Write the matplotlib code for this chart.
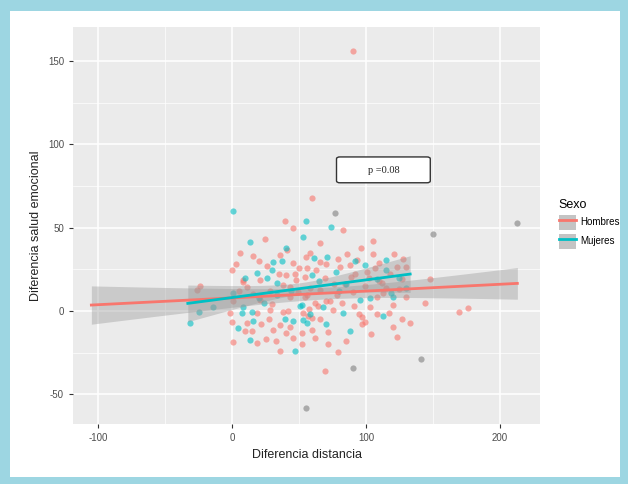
import numpy as np
import matplotlib
matplotlib.use("Agg")
import matplotlib.pyplot as plt
from matplotlib.patches import Rectangle, FancyBboxPatch
from matplotlib.lines import Line2D
from matplotlib.patches import Patch

plt.rcParams['font.family'] = ['Liberation Sans', 'DejaVu Sans']
plt.rcParams['axes.unicode_minus'] = False

# puntos (x = diferencia distancia, y = diferencia salud emocional)
hombres_x = [90, 60, 83, 66, 105, 105, 55, 130, 39.5, 45.6, 24.6, 6, 15.4, 35.8, 40.8,
             26.3, 0, 45.8, 40, 8, 0, 1, 18.4, 25, 11, 27.8, 30.8, 35.8, 43, 45.8,
             52, 35.8, 28.4, 18.4, -1.5, 1, 38, 21, 43, 53, -26, -23.6, 59.5, 72,
             62, 75.6, 96.8, 99, 120.4, 126.6, 120.4, 132.8, 123, 79.3, 69.4, 144, 57,
             57.5, 103, 108, 99, 169.7, 176, 148, 55.7, 63, 80.6, 88, 93, 100.5, 106.7,
             123, 54.5, 69.4, 89, 65.7, 38, 48, 11, 8.5, 21, 43, 49.5, 55.7, 54.5,
             65.7, 78, 90.5, 113, 130, 60, 72, 84, 110, 30, 15, 5, 70, 95, 115,
             20, 35, 50, 58, 64, 70, 76, 82, 86, 92, 97, 102, 108, 112, 118, 125,
             128, 3, 10, 16, 22, 28, 33, 42, 47, 52, 58, 66, 73, 79, 85, 91, 96,
             104, 110, 117, 121, 127, 40, 62]
hombres_y = [156, 68, 48.6, 40.6, 42, 34, 32.6, 26.6, 54, 49.8, 43, 35, 33, 33.6, 36.6,
             27, 24.6, 28.6, 21.6, 18.6, -6.4, -18.4, -19.4, -17, -7.4, -5, -11.4, -8.4, -9.4, -16.4,
             -13.4, -23.8, 0.6, -1.4, -1.4, 6, -0.4, 6.6, 8.6, -1.4, 12.6, 15, -11.4, -12.4,
             4.6, 0.6, -3.4, -6.4, 3.6, -5, -9.4, -7.4, -15.4, -24.4, -35.8, 5, -3,
             1, 2.6, 8.6, 15, -0.6, 1.6, 19, 25.6, 24.6, 26.6, 27.6, 30.6, 23.6, 25.6,
             26.6, 20.6, 19.6, 20.6, 29.6, 15.6, 18.6, 14.6, 17.6, 18.6, 14.6, 11.6, 9.6, 8.6,
             12.6, 9.6, 11.6, 10.6, 8.6, -4, -20, 16, 18, 4, -12, 12, 6, -2, 14,
             30, 22, 26, 14, 3, 28, 16, 5, 34, 22, -8, 20, -2, 17, 22, 13,
             31, 28, -12, 10, -8, 12, -18, 0, 22, -20, 35, -5, 6, 31, -18, 3, 38,
             -14, 29, -1, 34, 19, -13, -16]

mujeres_x = [0.5, 55, 74, 53, 71, 61, 115, 13.4, 30.8, 19, 30, 26, -31, -25, -14.4,
             4.7, 13.4, 14.7, 8, 39.5, 45.8, 50.7, 47, 7.2, 1, 33.8, 55.7, 52, 53,
             88, 68, 83, 112.4, 119, 77.6, 99, 115, 59.5, 33.3, 95.5, 120, 130, 20, 85,
             10, 24, 37, 44, 58, 65, 80, 92, 103, 108, 125, 40, 16, 70]
mujeres_y = [60, 54, 50.6, 44.6, 32.6, 32, 30.6, 41.6, 29.6, 23, 24.6, 19.6, -7.4, -0.4, 2.2,
             -10.4, -17.4, -0.4, 2.6, -5, -5.8, 3, -23.8, -1.4, 10.6, 9.6, -7.4, 3.6, -5.4,
             -11.8, 2.6, -1.4, -3, 10.6, 23.6, 27.6, 24.6, 21.6, 16.6, 6.6, 8.6, 14, 8, 16,
             20, 5, 30, 12, -2, 18, 12, 30, 8, 19, 20, 38, -6, -8]

# sexo NA (gris)
na_x = [77, 213, 150, 141, 55, 90.5]
na_y = [59, 53, 46, -29, -58, -34.4]

# rectas de regresion leidas (extremos) y semiancho del intervalo
hom_fit_x = [-105, 213]
hom_fit_y = [3.6, 16.6]
hom_band = dict(h0=3.5, xm=71, k=0.00387)
muj_fit_x = [-33, 133]
muj_fit_y = [4.6, 22.2]
muj_band = dict(h0=3.5, xm=50, k=0.0158)

x_ticks = [-100, 0, 100, 200]
y_ticks = [-50, 0, 50, 100, 150]

RED = '#F8766D'
TEAL = '#00BFC4'

fig = plt.figure(figsize=(6.28, 4.84), dpi=100)
fig.patch.set_facecolor('#9DD6E2')
fig.patches.append(Rectangle((10 / 628, 7 / 484), 610 / 628, 466 / 484,
                             transform=fig.transFigure, facecolor='white',
                             edgecolor='none', zorder=-5))

ax = fig.add_axes([73 / 628, 60 / 484, 467 / 628, 397 / 484])
ax.set_facecolor('#EBEBEB')
ax.set_xlim(-118.7, 229.9)
ax.set_ylim(-67.8, 170.5)

ax.set_xticks(x_ticks)
ax.set_yticks(y_ticks)
ax.set_xticks([-50, 50, 150], minor=True)
ax.set_yticks([-25, 25, 75, 125], minor=True)
ax.grid(which='major', color='white', lw=1.1)
ax.grid(which='minor', color='white', lw=0.5)
ax.set_axisbelow(True)
for s in ax.spines.values():
    s.set_visible(False)
ax.tick_params(which='major', length=3, color='#333333', labelsize=7,
               labelcolor='#4D4D4D', width=0.8)
ax.tick_params(which='minor', length=0)

ax.scatter(hombres_x, hombres_y, s=20, color=RED, alpha=0.6, lw=0, zorder=2)
ax.scatter(mujeres_x, mujeres_y, s=20, color=TEAL, alpha=0.6, lw=0, zorder=2)
ax.scatter(na_x, na_y, s=20, color='#7F7F7F', alpha=0.6, lw=0, zorder=2)


def smooth(fx, fy, band, color):
    xs = np.linspace(fx[0], fx[1], 100)
    ys = np.interp(xs, fx, fy)
    hw = np.sqrt(band['h0'] ** 2 + band['k'] * (xs - band['xm']) ** 2)
    ax.fill_between(xs, ys - hw, ys + hw, color='#999999', alpha=0.4, lw=0, zorder=3)
    ax.plot(xs, ys, color=color, lw=2, zorder=4)


smooth(hom_fit_x, hom_fit_y, hom_band, RED)
smooth(muj_fit_x, muj_fit_y, muj_band, TEAL)

box = FancyBboxPatch((78, 77), 70, 15.5, boxstyle='round,pad=0,rounding_size=2.5',
                     mutation_aspect=15.5 / 70 * 2, facecolor='white',
                     edgecolor='#333333', lw=1, zorder=5)
ax.add_patch(box)
ax.text(113, 84.6, 'p =0.08', ha='center', va='center', fontsize=7.5,
        family='Liberation Serif', color='#222222', zorder=6)

ax.set_xlabel('Diferencia distancia', fontsize=9, color='#222222', labelpad=4)
ax.set_ylabel('Diferencia salud emocional', fontsize=9, color='#222222', labelpad=4)

handles = [(Patch(facecolor='#C4C4C4', edgecolor='none'), Line2D([], [], color=RED, lw=2)),
           (Patch(facecolor='#C4C4C4', edgecolor='none'), Line2D([], [], color=TEAL, lw=2))]
leg = fig.legend(handles, ['Hombres', 'Mujeres'], title='Sexo', loc='upper left',
                 bbox_to_anchor=(550 / 628, 1 - 190 / 484), frameon=False,
                 fontsize=7, title_fontsize=9, handlelength=1.8, handleheight=2.0,
                 handletextpad=0.4, labelspacing=0.4, alignment='left')

fig.savefig('out.png', dpi=100, facecolor=fig.get_facecolor())
